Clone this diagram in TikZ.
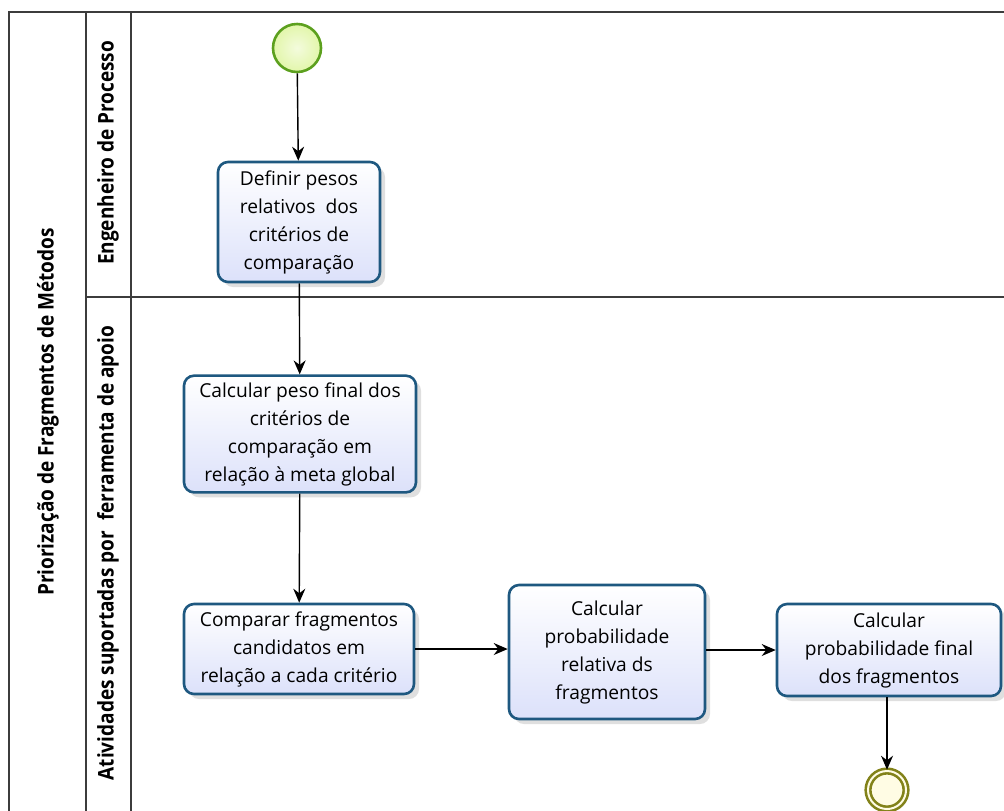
\documentclass[tikz,border=0pt]{standalone}
\usepackage{fontspec}
\setmainfont{Open Sans}
\newfontfamily\lanefont{Open Sans}[FakeStretch=0.88]
\usepackage{tikz}
\usetikzlibrary{arrows.meta,positioning,shadows}

\definecolor{taskblue}{RGB}{30,88,128}
\definecolor{taskfill}{RGB}{220,225,250}
\definecolor{startgreen}{RGB}{92,160,30}
\definecolor{startfill}{RGB}{226,246,170}
\definecolor{endolive}{RGB}{130,130,25}
\definecolor{endfill}{RGB}{255,252,228}
\definecolor{poolline}{RGB}{60,60,60}

\begin{document}
\begin{tikzpicture}[x=0.5pt,y=-0.5pt,
    task/.style={rectangle,rounded corners=5pt,draw=taskblue,line width=1.3pt,
      top color=white,bottom color=taskfill,align=center,font=\fontsize{9.6}{14}\selectfont,
      drop shadow={opacity=0.25,shadow xshift=2.5pt,shadow yshift=-2.5pt}},
    flow/.style={-{Stealth[length=7pt,width=6pt]},line width=0.7pt},
    lane/.style={rotate=90,font=\lanefont\bfseries\fontsize{10.8}{12}\selectfont},
    pool/.style={draw=poolline,line width=1pt}]
        \clip (0,0) rectangle (1004,810);
        \fill[white] (0,0) rectangle (1004,810);

        % pool and lanes
        \draw [pool] (1010,12) -- (9,12) -- (9,820);
        \draw [pool] (86,12) -- (86,820);
        \draw [pool] (131,12) -- (131,820);
        \draw [pool] (86,297) -- (1010,297);
        \node [lane] (p) at (48,412) {Priorização de Fragmentos de Métodos};
        \node [lane] (l1) at (108,153) {Engenheiro de Processo};
        \node [lane] (l2) at (108,553) {Atividades suportadas por \ ferramenta de apoio};

        % events
        \node [circle,draw=startgreen,line width=1.3pt,inner color=startfill!40,outer color=startfill,
          minimum size=24pt,inner sep=0pt] (inicio) at (297,48) {};
        \node [circle,draw=endolive,line width=1.3pt,double=endfill,double distance=1pt,
          fill=endfill,minimum size=19pt,inner sep=0pt] (fim) at (887,790) {};

        % tasks
        \node [task,minimum width=81pt,minimum height=60pt] (definir) at (299,222)
          {Definir pesos\\relativos \ dos\\critérios de\\comparação};
        \node [task,minimum width=116pt,minimum height=56pt] (peso) at (300,434)
          {Calcular peso final dos\\critérios de\\comparação em\\relação à meta global};
        \node [task,minimum width=115pt,minimum height=45pt] (comparar) at (299,649)
          {Comparar fragmentos\\candidatos em\\relação a cada critério};
        \node [task,minimum width=98pt,minimum height=67pt] (relativa) at (607,652)
          {Calcular\\probabilidade\\relativa ds\\fragmentos};
        \node [task,minimum width=112pt,minimum height=46pt] (final) at (889,650)
          {Calcular\\probabilidade final\\dos fragmentos};

        % flows
        \draw [flow] (inicio) -- (definir);
        \draw [flow] (definir) -- (peso);
        \draw [flow] (peso) -- (comparar);
        \draw [flow] (comparar) -- (relativa.west |- comparar.east);
        \draw [flow] (relativa.east |- final.west) -- (final);
        \draw [flow] (final.south -| fim) -- (fim);
\end{tikzpicture}
\end{document}
